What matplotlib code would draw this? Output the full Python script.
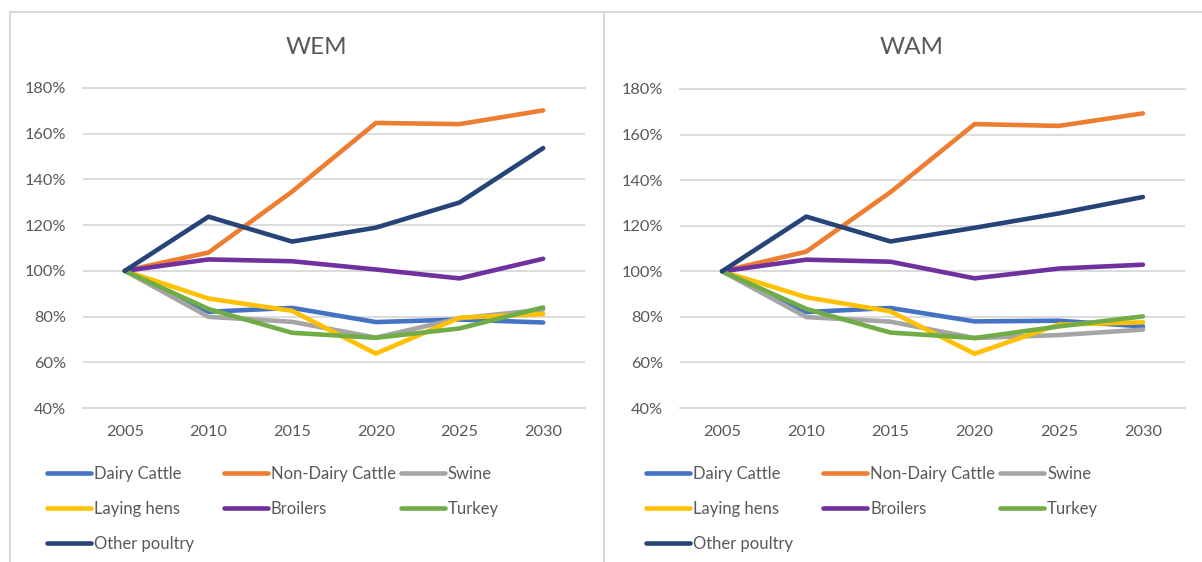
import matplotlib
matplotlib.use("Agg")
import matplotlib.pyplot as plt
from matplotlib.lines import Line2D
from matplotlib.ticker import FuncFormatter

years = ["2005", "2010", "2015", "2020", "2025", "2030"]
series_names = ["Dairy Cattle", "Non-Dairy Cattle", "Swine", "Laying hens",
                "Broilers", "Turkey", "Other poultry"]
colors = ["#4472C4", "#ED7D31", "#A5A5A5", "#FFC000", "#7030A0", "#70AD47", "#264478"]

wem_dairy = [100, 82.1, 83.8, 77.6, 78.7, 77.4]
wem_nondairy = [100, 108.0, 134.7, 164.7, 164.2, 170.2]
wem_swine = [100, 79.9, 77.7, 70.8, 79.2, 83.1]
wem_hens = [100, 87.9, 82.5, 63.8, 79.5, 81.1]
wem_broilers = [100, 105.0, 104.2, 100.6, 96.7, 105.3]
wem_turkey = [100, 83.3, 72.9, 70.7, 74.8, 84.0]
wem_other = [100, 123.7, 112.8, 118.9, 129.9, 153.7]

wam_dairy = [100, 82.1, 83.9, 78.0, 78.3, 75.8]
wam_nondairy = [100, 108.6, 134.7, 164.6, 163.8, 169.3]
wam_swine = [100, 79.9, 77.9, 70.7, 72.0, 74.4]
wam_hens = [100, 88.6, 82.4, 63.8, 76.6, 77.6]
wam_broilers = [100, 105.1, 104.2, 96.9, 101.2, 102.9]
wam_turkey = [100, 83.5, 73.1, 70.7, 75.8, 80.2]
wam_other = [100, 124.0, 113.1, 119.1, 125.4, 132.6]

yticks = [40, 60, 80, 100, 120, 140, 160, 180]

panels = [
    ("WEM", [wem_dairy, wem_nondairy, wem_swine, wem_hens, wem_broilers, wem_turkey, wem_other]),
    ("WAM", [wam_dairy, wam_nondairy, wam_swine, wam_hens, wam_broilers, wam_turkey, wam_other]),
]

plt.rcParams['font.family'] = ['Lato', 'DejaVu Sans']
TXT = "#595959"
GRID = "#D9D9D9"
W, H = 1202, 562
fig = plt.figure(figsize=(W / 100, H / 100), dpi=100)

def fx(px):
    return px / W

def fy(py):
    return 1 - py / H

# panel borders
fig.add_artist(Line2D([fx(10), fx(1202)], [fy(12), fy(12)], color=GRID, lw=1.5))
fig.add_artist(Line2D([fx(10), fx(10)], [fy(12), fy(562)], color=GRID, lw=1.5))
fig.add_artist(Line2D([fx(604), fx(604)], [fy(12), fy(562)], color=GRID, lw=1.5))

axes_px = [(83, 585, 88, 408), (680, 1185, 89, 408)]
title_x = [316, 912]
legend_x0 = [47, 646]

x = list(range(len(years)))
for (title, data), (l, r, t, b), tx, lx0 in zip(panels, axes_px, title_x, legend_x0):
    ax = fig.add_axes([fx(l), fy(b), fx(r - l), (b - t) / H])
    for vals, c in zip(data, colors):
        ax.plot(x, vals, color=c, lw=3.3, solid_capstyle='round', solid_joinstyle='round')
    ax.set_xlim(-0.5, len(years) - 0.5)
    ax.set_ylim(40, 180)
    ax.set_xticks(x)
    ax.set_xticklabels(years)
    ax.set_yticks(yticks)
    ax.yaxis.set_major_formatter(FuncFormatter(lambda v, p: f"{v:.0f}%"))
    ax.grid(axis='y', color=GRID, lw=1.3)
    ax.set_axisbelow(True)
    for s in ['left', 'right']:
        ax.spines[s].set_visible(False)
    for s in ['top', 'bottom']:
        ax.spines[s].set_color(GRID)
        ax.spines[s].set_linewidth(1.3)
    ax.tick_params(axis='both', length=0, labelsize=11.8, colors=TXT)
    ax.tick_params(axis='y', pad=12)
    ax.tick_params(axis='x', pad=12)
    fig.text(fx(tx), fy(48), title, ha='center', va='center', fontsize=17.5, color=TXT)

    # legend: 3 columns, row-major order
    for i, (name, c) in enumerate(zip(series_names, colors)):
        row, col = divmod(i, 3)
        x0 = lx0 + col * 177
        y0 = 473 + row * 35
        fig.add_artist(Line2D([fx(x0), fx(x0 + 44)], [fy(y0), fy(y0)], color=c, lw=3.3,
                              solid_capstyle='round'))
        fig.text(fx(x0 + 47), fy(y0 + 1), name, ha='left', va='center', fontsize=12, color=TXT)

fig.savefig("out.png", dpi=100, facecolor='white')
